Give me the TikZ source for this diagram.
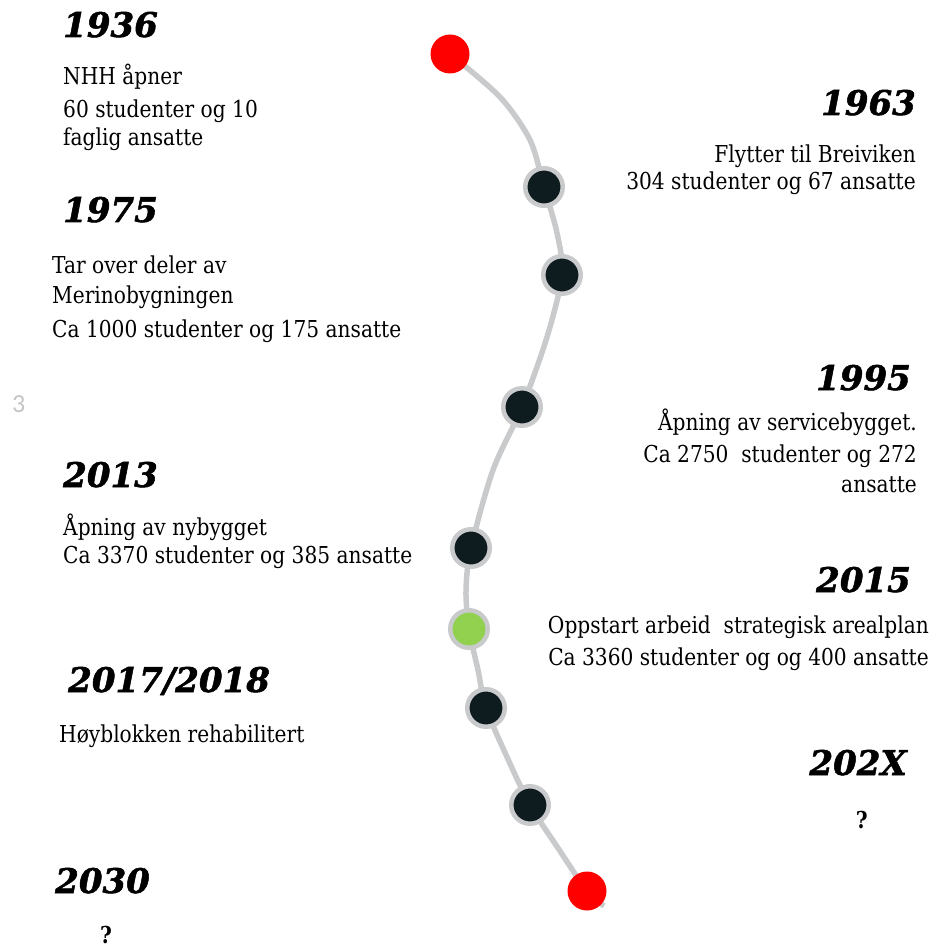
\documentclass[tikz,border=0pt]{standalone}
\usepackage{fontspec}
\setmainfont{DejaVu Serif}[FakeStretch=0.866]
\newfontfamily\yearfont{DejaVu Serif}[BoldItalicFeatures={FakeBold=1.5}]
\newfontfamily\numfont{Carlito}
\definecolor{linegrey}{HTML}{C9CACC}
\definecolor{dotdark}{HTML}{0F1C1F}
\definecolor{dotgreen}{HTML}{92D050}
\definecolor{dotred}{HTML}{FF0000}
\definecolor{pagenum}{HTML}{C4C4C4}
\begin{document}
\begin{tikzpicture}[x=1pt,y=-1pt,
  yr/.style={inner sep=0pt, font=\yearfont\bfseries\itshape\fontsize{34}{40}\selectfont},
  body/.style={inner sep=0pt, font=\fontsize{23.3}{28}\selectfont},
  qmark/.style={inner sep=0pt, font=\bfseries\fontsize{23.3}{28}\selectfont},
  dot/.style={circle, inner sep=0pt, minimum size=37.5pt, draw=linegrey, line width=4.5pt, fill=dotdark},
  greendot/.style={dot, fill=dotgreen},
  reddot/.style={circle, inner sep=0pt, minimum size=39pt, fill=dotred},
  L/.style={anchor=base west},
  R/.style={anchor=base east}]
\useasboundingbox (0,0) rectangle (936,949);
% timeline path
\coordinate (p0) at (450,54);
\coordinate (q0a) at (500,97);
\coordinate (q0b) at (530,140);
\coordinate (p1) at (544,187);
\coordinate (q1) at (557,233);
\coordinate (p2) at (562,275);
\coordinate (q2) at (547,337);
\coordinate (p3) at (522,407);
\coordinate (q3) at (493,470);
\coordinate (p4) at (471,548);
\coordinate (q4) at (466,590);
\coordinate (p5) at (469,629);
\coordinate (q5) at (478,670);
\coordinate (p6) at (486,708);
\coordinate (q6) at (507,757);
\coordinate (p7) at (530,805);
\coordinate (q7) at (558,848);
\coordinate (p8) at (587,891);
\coordinate (pend) at (604,906);
\draw[linegrey, line width=5.5pt] plot[smooth, tension=0.5] coordinates {(p0) (q0a) (q0b) (p1) (q1) (p2) (q2) (p3) (q3) (p4) (q4) (p5) (q5) (p6) (q6) (p7) (q7) (p8) (pend)};
\node[reddot] (n0) at (p0) {};
\node[dot] (n1) at (p1) {};
\node[dot] (n2) at (p2) {};
\node[dot] (n3) at (p3) {};
\node[dot] (n4) at (p4) {};
\node[greendot] (n5) at (p5) {};
\node[dot] (n6) at (p6) {};
\node[dot] (n7) at (p7) {};
\node[reddot] (n8) at (p8) {};
% left texts
\node[yr, L] (y1936) at (63,37) {1936};
\node[body, L] (t1936a) at (63,85) {NHH åpner};
\node[body, L] (t1936b) at (63,118) {60 studenter og 10};
\node[body, L] (t1936c) at (63,146) {faglig ansatte};
\node[yr, L] (y1975) at (63,222) {1975};
\node[body, L] (t1975a) at (52,274) {Tar over deler av};
\node[body, L] (t1975b) at (52,303) {Merinobygningen};
\node[body, L] (t1975c) at (52,337) {Ca 1000 studenter og 175 ansatte};
\node[inner sep=0pt, L, text=pagenum, font=\numfont\fontsize{26}{30}\selectfont] (pg) at (12,412) {3};
\node[yr, L] (y2013) at (63,487) {2013};
\node[body, L] (t2013a) at (63,535) {Åpning av nybygget};
\node[body, L] (t2013b) at (63,563) {Ca 3370 studenter og 385 ansatte};
\node[yr, L] (y2017) at (68,692) {2017/2018};
\node[body, L] (t2017a) at (59,742) {Høyblokken rehabilitert};
\node[yr, L] (y2030) at (55,893) {2030};
\node[qmark, L] (q2030) at (100,943) {?};
% right texts
\node[yr, R] (y1963) at (916,115) {1963};
\node[body, R] (t1963a) at (916,163) {Flytter til Breiviken};
\node[body, R] (t1963b) at (916,190) {304 studenter og 67 ansatte};
\node[yr, R] (y1995) at (911,390) {1995};
\node[body, R] (t1995a) at (917,430) {Åpning av servicebygget.};
\node[body, R] (t1995b) at (917,462) {Ca 2750\ \ studenter og 272};
\node[body, R] (t1995c) at (917,492) {ansatte};
\node[yr, R] (y2015) at (911,592) {2015};
\node[body, R] (t2015a) at (929,633) {Oppstart arbeid\ \ strategisk arealplan};
\node[body, R] (t2015b) at (929,665) {Ca 3360 studenter og og 400 ansatte};
\node[yr, R] (y202X) at (907,775) {202X};
\node[qmark, R] (q202X) at (868,828) {?};
\end{tikzpicture}
\end{document}
